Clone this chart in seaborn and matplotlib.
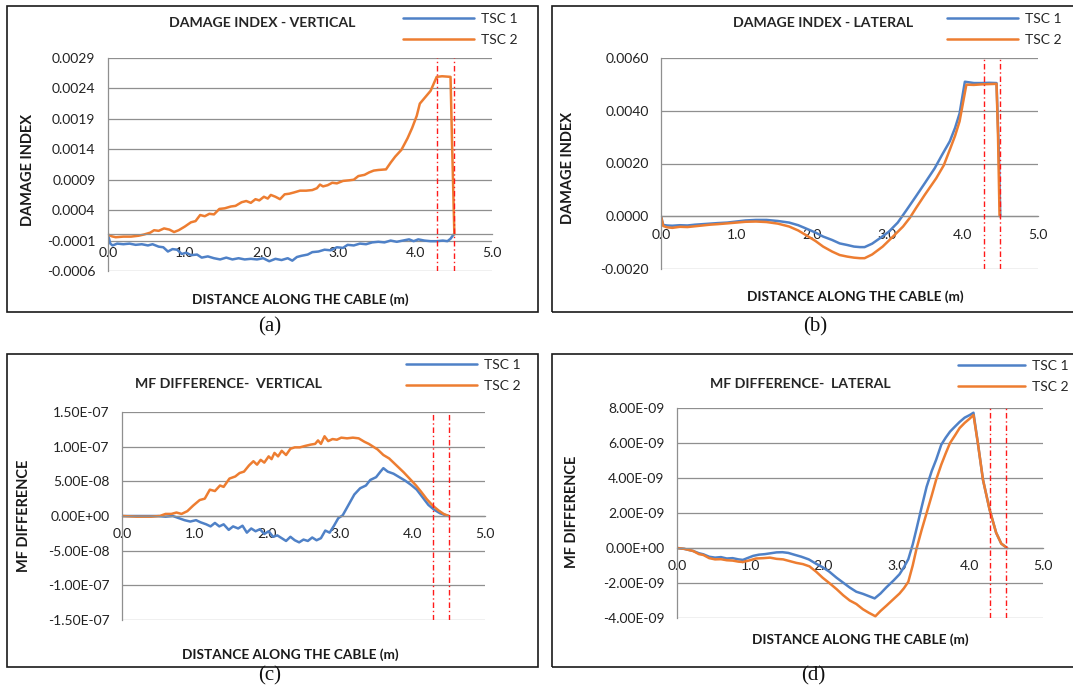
import numpy as np
import pandas as pd
import matplotlib
matplotlib.use("Agg")
import matplotlib.pyplot as plt
import seaborn as sns
from matplotlib.patches import Rectangle
from matplotlib.ticker import FuncFormatter

sns.set_style("white")
plt.rcParams["font.family"] = ["Lato", "DejaVu Sans"]

# ---------------- data ----------------
SERIES = ["TSC 1", "TSC 2"]
COLORS = ["#4f81c7", "#ed7d31"]
RED_LINES = [4.28, 4.50]
X_TICKS = [0.0, 1.0, 2.0, 3.0, 4.0, 5.0]

# (a) Damage index - vertical (values x 1e-4)
a_tsc1_x = [0.00, 0.03, 0.06, 0.12, 0.20, 0.28, 0.36, 0.44, 0.52, 0.58, 0.66, 0.72, 0.78, 0.84, 0.90, 0.96,
            1.02, 1.08, 1.16, 1.22, 1.30, 1.38, 1.46, 1.54, 1.62, 1.70, 1.78, 1.86, 1.94, 2.02, 2.10, 2.18,
            2.26, 2.34, 2.40, 2.46, 2.52, 2.60, 2.66, 2.74, 2.82, 2.90, 2.98, 3.06, 3.12, 3.20, 3.28, 3.36,
            3.44, 3.52, 3.60, 3.68, 3.76, 3.84, 3.92, 3.98, 4.04, 4.12, 4.20, 4.28, 4.36, 4.42, 4.46, 4.50]
a_tsc1_y = [0.0, -1.5, -1.8, -1.5, -1.6, -1.5, -1.7, -1.6, -1.8, -1.6, -2.0, -2.1, -2.8, -2.4, -2.5, -3.2,
            -3.0, -3.4, -3.3, -3.8, -3.6, -3.9, -4.1, -3.8, -4.1, -3.9, -4.1, -4.0, -4.1, -3.9, -4.4, -4.0,
            -4.2, -3.9, -4.3, -3.7, -3.5, -3.3, -2.9, -2.8, -2.5, -2.6, -2.1, -2.2, -1.7, -1.8, -1.5, -1.6,
            -1.3, -1.2, -1.3, -1.0, -1.2, -1.0, -0.8, -1.1, -0.8, -1.0, -1.1, -1.1, -1.0, -1.1, -0.7, 0.0]
a_tsc2_x = [0.00, 0.05, 0.10, 0.20, 0.30, 0.40, 0.47, 0.55, 0.60, 0.66, 0.73, 0.80, 0.86, 0.92, 1.00, 1.08,
            1.14, 1.20, 1.26, 1.32, 1.38, 1.45, 1.52, 1.60, 1.66, 1.74, 1.80, 1.86, 1.92, 1.97, 2.03, 2.08,
            2.12, 2.18, 2.24, 2.30, 2.36, 2.42, 2.50, 2.58, 2.66, 2.72, 2.76, 2.80, 2.86, 2.92, 2.98, 3.06,
            3.14, 3.20, 3.26, 3.34, 3.40, 3.46, 3.52, 3.62, 3.68, 3.74, 3.82, 3.90, 3.96, 4.02, 4.06, 4.12,
            4.20, 4.28, 4.35, 4.46, 4.48, 4.51]
a_tsc2_y = [0.0, -0.3, -0.45, -0.35, -0.35, -0.2, 0.0, 0.3, 0.7, 0.6, 1.0, 0.8, 0.4, 0.7, 1.3, 2.0,
            2.2, 3.2, 3.0, 3.4, 3.3, 4.2, 4.3, 4.6, 4.7, 5.3, 5.5, 5.2, 5.8, 5.6, 6.2, 5.9,
            6.5, 6.2, 5.8, 6.6, 6.7, 6.9, 7.2, 7.2, 7.3, 7.6, 8.2, 7.9, 8.1, 8.5, 8.4, 8.8,
            8.9, 9.0, 9.6, 9.8, 10.2, 10.5, 10.6, 10.7, 11.8, 12.8, 13.9, 15.8, 17.5, 19.5, 21.5, 22.4,
            23.6, 25.9, 26.0, 25.9, 15.0, 0.0]
a_scale = 1e-4
a_yticks = [-0.0006, -0.0001, 0.0004, 0.0009, 0.0014, 0.0019, 0.0024, 0.0029]

# (b) Damage index - lateral (values x 1e-4)
b_tsc1_x = [0.00, 0.03, 0.08, 0.15, 0.25, 0.35, 0.45, 0.55, 0.65, 0.75, 0.88, 1.00, 1.12, 1.26, 1.40, 1.55,
            1.70, 1.82, 1.92, 2.05, 2.15, 2.27, 2.37, 2.47, 2.56, 2.64, 2.70, 2.80, 2.90, 3.02, 3.14, 3.26,
            3.38, 3.50, 3.63, 3.73, 3.83, 3.90, 3.96, 4.03, 4.08, 4.15, 4.25, 4.35, 4.45, 4.48, 4.50]
b_tsc1_y = [0.0, -3.3, -3.5, -3.6, -3.4, -3.5, -3.2, -3.0, -2.8, -2.6, -2.4, -2.0, -1.6, -1.4, -1.4, -1.8,
            -2.4, -3.4, -4.6, -6.2, -7.7, -9.0, -10.3, -10.9, -11.5, -11.7, -11.7, -10.4, -8.4, -5.9, -2.4, 2.5,
            7.5, 12.6, 18.2, 23.4, 28.4, 33.5, 39.0, 51.0, 50.8, 50.5, 50.5, 50.6, 50.5, 25.0, 0.0]
b_tsc2_x = [0.00, 0.03, 0.08, 0.15, 0.25, 0.35, 0.45, 0.55, 0.65, 0.75, 0.88, 1.00, 1.12, 1.26, 1.40, 1.55,
            1.70, 1.82, 1.92, 2.05, 2.15, 2.27, 2.37, 2.47, 2.56, 2.64, 2.70, 2.80, 2.94, 3.08, 3.21, 3.30,
            3.38, 3.50, 3.65, 3.75, 3.83, 3.90, 3.96, 4.05, 4.15, 4.25, 4.35, 4.45, 4.47, 4.49]
b_tsc2_y = [0.0, -3.7, -4.2, -4.4, -4.0, -4.1, -3.8, -3.5, -3.2, -3.0, -2.7, -2.4, -2.1, -2.0, -2.2, -2.8,
            -3.9, -5.4, -7.1, -9.4, -11.5, -13.4, -14.7, -15.3, -15.7, -15.9, -15.9, -14.5, -11.5, -7.6, -3.9, -0.6,
            3.0, 8.2, 14.4, 19.3, 25.2, 30.5, 36.0, 49.9, 49.8, 50.0, 50.1, 50.2, 30.0, 0.0]
b_scale = 1e-4
b_yticks = [-0.002, 0.0, 0.002, 0.004, 0.006]

# (c) MF difference - vertical (values x 1e-8)
c_tsc1_x = [0.0, 0.3, 0.5, 0.6, 0.7, 0.78, 0.86, 0.94, 1.02, 1.08, 1.16, 1.22, 1.28, 1.34, 1.40, 1.47,
            1.53, 1.60, 1.66, 1.72, 1.78, 1.84, 1.90, 1.96, 2.02, 2.08, 2.14, 2.20, 2.26, 2.32, 2.38, 2.44,
            2.50, 2.56, 2.62, 2.68, 2.74, 2.80, 2.86, 2.92, 2.98, 3.04, 3.12, 3.20, 3.28, 3.36, 3.42, 3.50,
            3.56, 3.60, 3.66, 3.74, 3.82, 3.90, 3.98, 4.06, 4.14, 4.22, 4.30, 4.38, 4.46, 4.50]
c_tsc1_y = [0.0, 0.0, 0.0, -0.1, 0.0, -0.3, -0.6, -0.8, -0.6, -0.9, -1.2, -1.5, -1.0, -1.5, -1.2, -2.0,
            -1.5, -1.8, -1.4, -2.4, -1.8, -2.2, -1.9, -2.6, -2.2, -3.0, -2.8, -3.2, -3.6, -3.0, -3.5, -3.8,
            -3.4, -3.6, -3.1, -3.5, -3.2, -2.1, -2.4, -1.4, -0.3, 0.1, 1.6, 3.1, 4.0, 4.4, 5.2, 5.6,
            6.4, 6.9, 6.4, 6.1, 5.6, 5.1, 4.5, 3.8, 2.7, 1.6, 0.9, 0.4, 0.1, 0.0]
c_tsc2_x = [0.0, 0.2, 0.4, 0.52, 0.6, 0.68, 0.75, 0.82, 0.9, 0.98, 1.07, 1.14, 1.21, 1.28, 1.35, 1.40,
            1.48, 1.56, 1.62, 1.68, 1.75, 1.81, 1.86, 1.91, 1.96, 2.02, 2.06, 2.10, 2.15, 2.20, 2.26, 2.32,
            2.38, 2.45, 2.52, 2.60, 2.66, 2.70, 2.74, 2.79, 2.84, 2.90, 2.96, 3.02, 3.10, 3.18, 3.26, 3.34,
            3.40, 3.46, 3.52, 3.60, 3.68, 3.78, 3.88, 3.97, 4.05, 4.12, 4.20, 4.28, 4.36, 4.43, 4.50]
c_tsc2_y = [0.0, -0.1, -0.1, 0.0, 0.3, 0.3, 0.5, 0.3, 0.7, 1.5, 2.3, 2.5, 3.8, 3.6, 4.4, 4.2,
            5.4, 5.7, 6.2, 6.4, 7.3, 7.9, 7.4, 8.1, 7.7, 8.6, 8.2, 9.1, 8.6, 9.4, 8.8, 9.7,
            9.9, 9.9, 10.1, 10.3, 10.4, 10.9, 10.4, 11.5, 10.8, 11.1, 11.0, 11.3, 11.2, 11.3, 11.2, 10.7,
            10.4, 10.0, 9.6, 8.8, 8.3, 7.3, 6.3, 5.3, 4.4, 3.5, 2.4, 1.5, 0.8, 0.3, 0.0]
c_scale = 1e-8
c_yticks = [-1.5e-7, -1.0e-7, -5.0e-8, 0.0, 5.0e-8, 1.0e-7, 1.5e-7]

# (d) MF difference - lateral (values x 1e-9)
d_tsc1_x = [0.0, 0.1, 0.22, 0.30, 0.36, 0.44, 0.52, 0.60, 0.68, 0.76, 0.84, 0.90, 0.96, 1.04, 1.12, 1.20,
            1.28, 1.36, 1.44, 1.52, 1.60, 1.70, 1.80, 1.90, 1.99, 2.08, 2.18, 2.27, 2.36, 2.45, 2.54, 2.62,
            2.70, 2.78, 2.86, 2.96, 3.04, 3.10, 3.16, 3.22, 3.27, 3.34, 3.41, 3.48, 3.54, 3.61, 3.67, 3.73,
            3.80, 3.86, 3.93, 4.00, 4.05, 4.11, 4.18, 4.27, 4.36, 4.43, 4.51]
d_tsc1_y = [0.0, -0.05, -0.17, -0.3, -0.36, -0.5, -0.55, -0.52, -0.6, -0.58, -0.65, -0.68, -0.58, -0.45, -0.38, -0.35,
            -0.3, -0.25, -0.24, -0.28, -0.38, -0.5, -0.65, -0.9, -1.1, -1.35, -1.7, -1.98, -2.26, -2.5, -2.62, -2.75,
            -2.88, -2.6, -2.25, -1.85, -1.5, -1.1, -0.64, 0.2, 1.06, 2.3, 3.5, 4.4, 5.04, 5.9, 6.3, 6.65,
            6.95, 7.2, 7.45, 7.6, 7.73, 6.0, 3.9, 2.2, 0.87, 0.25, 0.0]
d_tsc2_x = [0.0, 0.1, 0.22, 0.30, 0.36, 0.44, 0.52, 0.60, 0.68, 0.76, 0.84, 0.90, 0.98, 1.08, 1.18, 1.27,
            1.36, 1.45, 1.54, 1.63, 1.72, 1.81, 1.90, 1.99, 2.08, 2.18, 2.27, 2.36, 2.45, 2.54, 2.62, 2.71,
            2.78, 2.86, 2.95, 3.04, 3.10, 3.16, 3.22, 3.27, 3.34, 3.41, 3.48, 3.54, 3.61, 3.67, 3.73, 3.80,
            3.86, 3.93, 4.00, 4.05, 4.11, 4.18, 4.27, 4.36, 4.43, 4.51]
d_tsc2_y = [0.0, -0.05, -0.17, -0.35, -0.4, -0.58, -0.65, -0.64, -0.7, -0.72, -0.78, -0.8, -0.72, -0.6, -0.58, -0.55,
            -0.62, -0.65, -0.75, -0.85, -0.92, -1.05, -1.35, -1.7, -2.0, -2.35, -2.7, -3.0, -3.2, -3.5, -3.7, -3.9,
            -3.6, -3.3, -2.95, -2.6, -2.3, -1.93, -1.0, -0.08, 1.0, 2.0, 3.0, 3.9, 4.76, 5.4, 6.0, 6.45,
            6.85, 7.15, 7.4, 7.6, 6.0, 3.9, 2.2, 0.87, 0.25, 0.0]
d_scale = 1e-9
d_yticks = [-4e-9, -2e-9, 0.0, 2e-9, 4e-9, 6e-9, 8e-9]

# ---------------- layout ----------------
W, H = 1073, 687
fig = plt.figure(figsize=(W / 100, H / 100), dpi=100)
fig.patch.set_facecolor("white")

GRID = "#8f8f8f"


def px_rect(x0, y0, x1, y1):
    return [x0 / W, 1 - y1 / H, (x1 - x0) / W, (y1 - y0) / H]


def fx(x):
    return x / W


def fy(y):
    return 1 - y / H


def panel(ax_box, frame_box, data, scale, yticks, fmt, title, title_xy, legend_xy,
          ylabel, ylabel_xy, xlabel_xy, caption, caption_xy, handlelength=5.1):
    x0, y0, x1, y1 = frame_box
    fig.add_artist(Rectangle((fx(x0), fy(y1)), (x1 - x0) / W, (y1 - y0) / H,
                             transform=fig.transFigure, fill=False, edgecolor="#1a1a1a", lw=1.2))
    ax = fig.add_axes(px_rect(*ax_box))
    (t1x, t1y), (t2x, t2y) = data
    df = pd.concat([
        pd.DataFrame({"x": t1x, "y": np.array(t1y) * scale, "series": SERIES[0]}),
        pd.DataFrame({"x": t2x, "y": np.array(t2y) * scale, "series": SERIES[1]}),
    ], ignore_index=True)
    sns.lineplot(data=df, x="x", y="y", hue="series", hue_order=SERIES,
                 palette=COLORS, estimator=None, sort=True, lw=1.8, legend=False, ax=ax)
    handles = ax.get_lines()[:2]
    for xv in RED_LINES:
        ax.axvline(xv, color="#ff1a1a", lw=1.0, ls=(0, (4, 2, 1, 2)), zorder=3)
    ax.set_xlim(0, 5)
    ax.set_ylim(yticks[0], yticks[-1])
    ax.set_xticks(X_TICKS)
    ax.set_yticks(yticks)
    ax.xaxis.set_major_formatter(FuncFormatter(lambda v, p: f"{v:.1f}"))
    ax.yaxis.set_major_formatter(FuncFormatter(fmt))
    ax.grid(axis="y", color=GRID, lw=0.9)
    ax.grid(axis="x", visible=False)
    ax.set_axisbelow(True)
    for s in ["top", "right"]:
        ax.spines[s].set_visible(False)
    ax.spines["left"].set_color(GRID)
    ax.spines["left"].set_linewidth(0.9)
    ax.spines["bottom"].set_position(("data", 0))
    ax.spines["bottom"].set_color(GRID)
    ax.spines["bottom"].set_linewidth(0.9)
    ax.tick_params(axis="x", length=0, pad=9, labelsize=10, colors="#222222")
    ax.tick_params(axis="y", length=0, pad=9, labelsize=10, colors="#222222")
    ax.set_xlabel("")
    ax.set_ylabel("")
    ax.set_facecolor("none")
    lx, ly = legend_xy
    ax.legend(handles, SERIES, loc="upper left", bbox_to_anchor=(fx(lx), fy(ly)),
              bbox_transform=fig.transFigure, frameon=False, handlelength=handlelength,
              handletextpad=0.5, labelspacing=0.62, borderpad=0, borderaxespad=0,
              fontsize=10)
    fig.text(fx(title_xy[0]), fy(title_xy[1]), title, ha="center", va="center",
             fontsize=10.2, fontweight="bold", color="#262626")
    fig.text(fx(ylabel_xy[0]), fy(ylabel_xy[1]), ylabel, ha="center", va="center",
             rotation=90, fontsize=10.5, fontweight="bold", color="#1a1a1a")
    fig.text(fx(xlabel_xy[0]), fy(xlabel_xy[1]), "DISTANCE ALONG THE CABLE (m)", ha="center",
             va="center", fontsize=9.8, fontweight="bold", color="#1a1a1a")
    fig.text(fx(caption_xy[0]), fy(caption_xy[1]), caption, ha="center", va="center",
             fontsize=15, family="Liberation Serif", color="#111111")
    return ax


fmt4 = lambda v, p: f"{v:.4f}"
fmtE = lambda v, p: f"{v:.2E}"

panel((108, 58, 492, 271), (7, 6, 538, 312),
      ((a_tsc1_x, a_tsc1_y), (a_tsc2_x, a_tsc2_y)), a_scale, a_yticks, fmt4,
      "DAMAGE INDEX - VERTICAL", (262, 23), (403, 13), "DAMAGE INDEX", (28, 170),
      (300, 300), "(a)", (270, 327))

panel((661, 58, 1038, 269), (552, 6, 1080, 312),
      ((b_tsc1_x, b_tsc1_y), (b_tsc2_x, b_tsc2_y)), b_scale, b_yticks, fmt4,
      "DAMAGE INDEX - LATERAL", (823, 23), (947, 13), "DAMAGE INDEX", (568, 168),
      (855, 297), "(b)", (815, 327))

panel((122, 412, 485, 620), (7, 354, 538, 667),
      ((c_tsc1_x, c_tsc1_y), (c_tsc2_x, c_tsc2_y)), c_scale, c_yticks, fmtE,
      "MF DIFFERENCE-  VERTICAL", (228, 384), (406, 359), "MF DIFFERENCE", (24, 516),
      (290, 655), "(c)", (270, 676))

panel((677, 408, 1043, 618), (552, 354, 1080, 667),
      ((d_tsc1_x, d_tsc1_y), (d_tsc2_x, d_tsc2_y)), d_scale, d_yticks, fmtE,
      "MF DIFFERENCE-  LATERAL", (800, 384), (958, 360), "MF DIFFERENCE", (572, 512),
      (860, 640), "(d)", (813, 676), handlelength=4.8)

fig.savefig("out.png", dpi=100, facecolor="white")
